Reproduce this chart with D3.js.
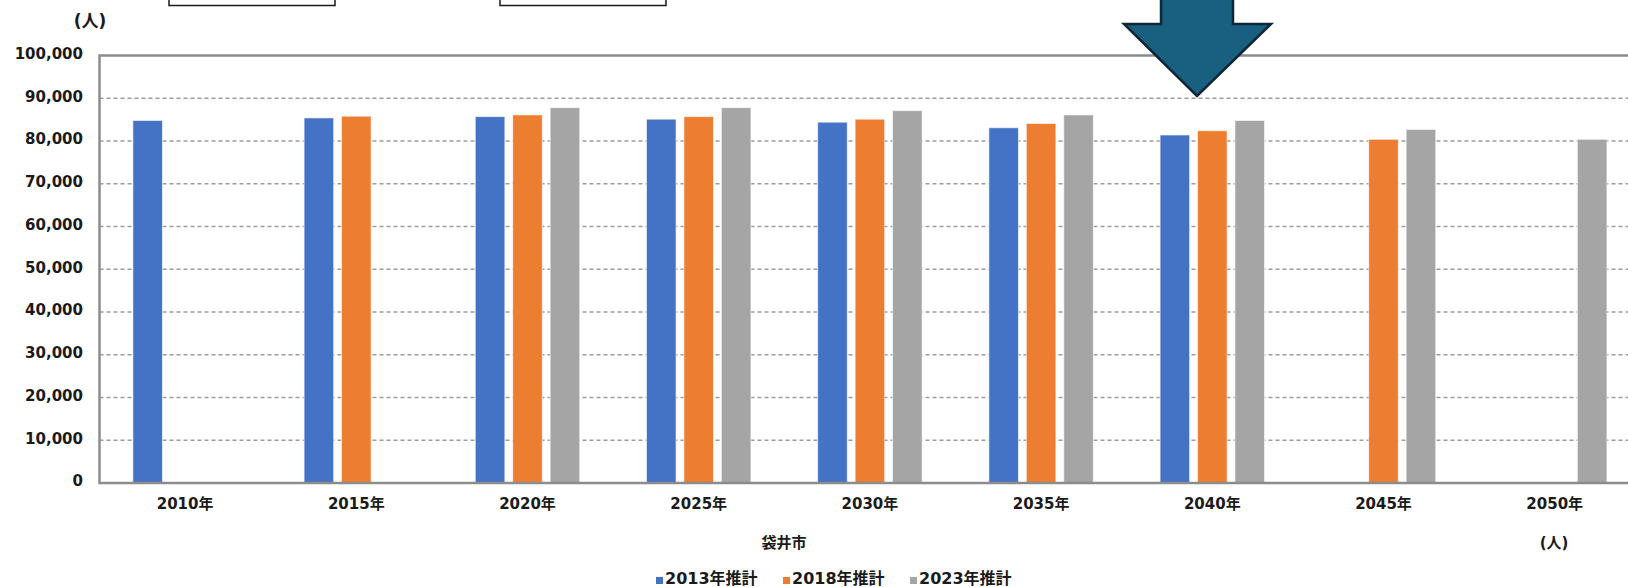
<!DOCTYPE html>
<html>
<head>
<meta charset="utf-8">
<script src="https://cdnjs.cloudflare.com/ajax/libs/d3/7.8.5/d3.min.js"></script>
<style>
  body { margin: 0; background: #fff; }
  text { font-family: "DejaVu Sans", "Noto Sans CJK JP", sans-serif; font-weight: bold; fill: #1a1a1a; }
</style>
</head>
<body>
<div id="chart"></div>
<script>
// categories and series
var years = ["2010年", "2015年", "2020年", "2025年", "2030年", "2035年", "2040年", "2045年", "2050年"]
var seriesNames = ["2013年推計", "2018年推計", "2023年推計"]
var seriesColors = ["#4472C4", "#ED7D31", "#A5A5A5"]
var est2013 = [84800, 85400, 85700, 85100, 84400, 83100, 81400, null, null]
var est2018 = [null, 85800, 86100, 85700, 85100, 84100, 82400, 80400, null]
var est2023 = [null, null, 87800, 87800, 87100, 86100, 84800, 82700, 80400]
var yTicks = [0, 10000, 20000, 30000, 40000, 50000, 60000, 70000, 80000, 90000, 100000]

var width = 1628
var height = 587
var plotLeft = 99.5, plotTop = 55.5, plotBottom = 483
var step = 171.2
var plotRight = plotLeft + step * years.length   // plot runs past the right edge

var svg = d3.select("#chart")
  .append("svg")
    .attr("width", width)
    .attr("height", height)

// flatten to rows the bars can use
var allSeries = [est2013, est2018, est2023]
var rows = []
years.forEach(function(yr, i) {
  seriesNames.forEach(function(s, j) {
    if (allSeries[j][i] != null) rows.push({ year: yr, series: s, value: allSeries[j][i] })
  })
})

var x0 = d3.scaleBand()
  .domain(years)
  .range([plotLeft, plotRight])
  .paddingInner(0.39)
  .paddingOuter(0.195)

var x1 = d3.scaleBand()
  .domain(seriesNames)
  .range([0, x0.bandwidth()])
  .paddingInner(0.21)

var y = d3.scaleLinear()
  .domain([0, 100000])
  .range([plotBottom, plotTop])

var color = d3.scaleOrdinal()
  .domain(seriesNames)
  .range(seriesColors)

// dashed gridlines
svg.append("g")
  .selectAll("line")
  .data(yTicks.filter(function(t) { return t > 0 && t < 100000 }))
  .enter()
  .append("line")
    .attr("x1", plotLeft)
    .attr("x2", plotRight)
    .attr("y1", function(d) { return y(d) })
    .attr("y2", function(d) { return y(d) })
    .attr("stroke", "#9c9c9c")
    .attr("stroke-width", 1.4)
    .attr("stroke-dasharray", "4,3")

// bars
svg.append("g")
  .selectAll("rect")
  .data(rows)
  .enter()
  .append("rect")
    .attr("x", function(d) { return x0(d.year) + x1(d.series) })
    .attr("y", function(d) { return y(d.value) })
    .attr("width", x1.bandwidth())
    .attr("height", function(d) { return y(0) - y(d.value) })
    .attr("fill", function(d) { return color(d.series) })
    .attr("stroke", "#ffffff")
    .attr("stroke-opacity", 0.6)
    .attr("stroke-width", 1)

// plot frame (top, left, bottom)
svg.append("path")
  .attr("d", d3.line()([[plotRight, y(100000)], [plotLeft, y(100000)], [plotLeft, y(0)], [plotRight, y(0)]]))
  .attr("fill", "none")
  .attr("stroke", "#8c8c8c")
  .attr("stroke-width", 2.5)

// y axis labels
var yAxis = d3.axisLeft(y)
  .tickValues(yTicks)
  .tickSize(0)
  .tickPadding(0)
  .tickFormat(d3.format(","))

svg.append("g")
  .attr("transform", "translate(83,-2)")
  .call(yAxis)
  .call(function(g) { g.select(".domain").remove() })
  .selectAll("text")
    .style("font-size", "15px")
    .style("fill", "#1a1a1a")

// x axis labels
var xAxis = d3.axisBottom(x0).tickSize(0).tickPadding(0)
svg.append("g")
  .attr("transform", "translate(0,509)")
  .call(xAxis)
  .call(function(g) { g.select(".domain").remove() })
  .selectAll("text")
    .attr("dy", 0)
    .style("font-size", "15px")
    .style("fill", "#1a1a1a")

// unit labels and city name
svg.append("text").attr("x", 90).attr("y", 27).attr("text-anchor", "middle")
  .style("font-size", "17px").text("(人)")
svg.append("text").attr("x", 1554).attr("y", 548).attr("text-anchor", "middle")
  .style("font-size", "15px").text("(人)")
svg.append("text").attr("x", 784).attr("y", 548).attr("text-anchor", "middle")
  .style("font-size", "15px").text("袋井市")

// legend
var legendX = [656, 783, 910]
var legend = svg.append("g")
  .selectAll("g")
  .data(seriesNames)
  .enter()
  .append("g")
    .attr("transform", function(d, i) { return "translate(" + legendX[i] + ",0)" })
legend.append("rect")
  .attr("x", 0).attr("y", 577)
  .attr("width", 7).attr("height", 7)
  .attr("fill", function(d) { return color(d) })
legend.append("text")
  .attr("x", 9).attr("y", 584)
  .style("font-size", "16px")
  .text(function(d) { return d })

// boxes cut off at the top
svg.append("rect").attr("x", 169).attr("y", -10).attr("width", 166).attr("height", 15.5)
  .attr("fill", "#fff").attr("stroke", "#1a1a1a").attr("stroke-width", 1.5)
svg.append("rect").attr("x", 500).attr("y", -10).attr("width", 166).attr("height", 15.5)
  .attr("fill", "#fff").attr("stroke", "#1a1a1a").attr("stroke-width", 1.5)

// down arrow
svg.append("path")
  .attr("d", d3.line()([[1161, -5], [1233, -5], [1233, 24], [1271, 24], [1197, 96], [1124, 24], [1161, 24]]) + "Z")
  .attr("fill", "#185f80")
  .attr("stroke", "#0e2736")
  .attr("stroke-width", 2.5)
  .attr("stroke-linejoin", "miter")
</script>
</body>
</html>
